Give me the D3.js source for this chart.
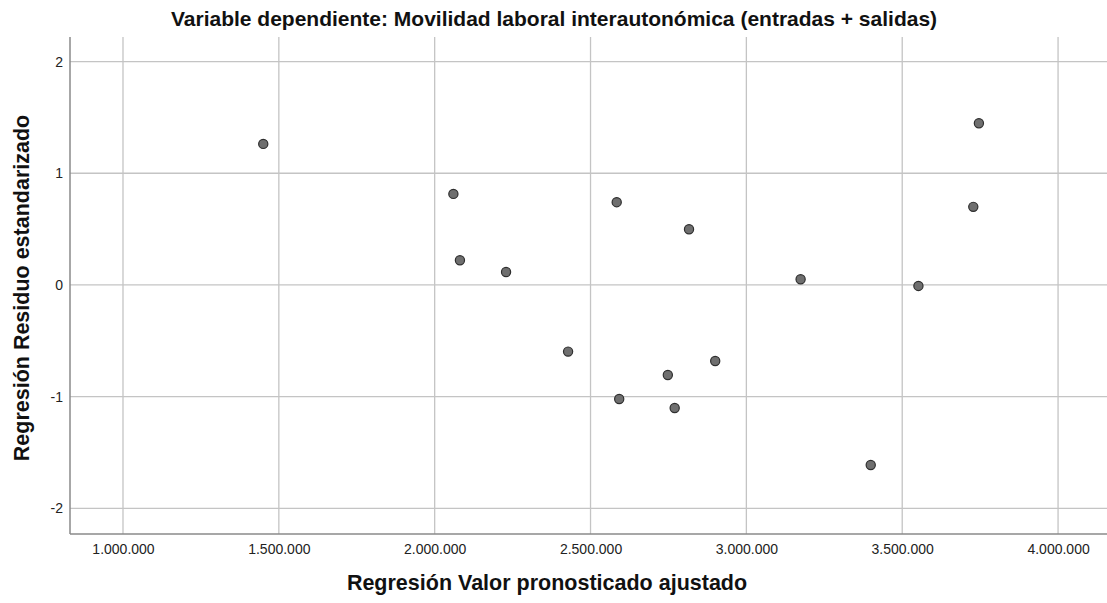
<!DOCTYPE html>
<html><head><meta charset="utf-8">
<script src="https://cdn.jsdelivr.net/npm/d3@7"></script>
<style>body{margin:0;background:#fff;}svg{display:block;font-family:"Liberation Sans",Arial,sans-serif;}</style>
</head><body>
<svg id="c" width="1107" height="603"></svg>
<script>
const predicted = [1450000,2060000,2081000,2229000,2428000,2584000,2592000,2748000,2770000,2816000,2900000,3174000,3399000,3552000,3728000,3746000];
const residual  = [1.263,0.815,0.221,0.116,-0.597,0.741,-1.021,-0.806,-1.102,0.499,-0.681,0.051,-1.612,-0.009,0.699,1.448];
const xTicks = [1000000,1500000,2000000,2500000,3000000,3500000,4000000];
const yTicks = [-2,-1,0,1,2];
const title = "Variable dependiente: Movilidad laboral interautonómica (entradas + salidas)";
const xTitle = "Regresión Valor pronosticado ajustado";
const yTitle = "Regresión Residuo estandarizado";

const svg = d3.select("#c");
const L=70, R=1107, T=37, B=534;
const x = d3.scaleLinear().domain([830000, 4157000]).range([L,R]);
const y = d3.scaleLinear().domain([-2.23, 2.22]).range([B,T]);
const fmt = d => d3.format(",")(d).replace(/,/g,".");

// gridlines
svg.append("g").selectAll("line").data(xTicks).join("line")
  .attr("x1",d=>x(d)).attr("x2",d=>x(d)).attr("y1",T).attr("y2",B)
  .attr("stroke","#c4c4c4").attr("stroke-width",1.3);
svg.append("g").selectAll("line").data(yTicks).join("line")
  .attr("x1",L).attr("x2",R).attr("y1",d=>y(d)).attr("y2",d=>y(d))
  .attr("stroke","#c4c4c4").attr("stroke-width",1.3);

// axes
const xa = svg.append("g").attr("transform",`translate(0,${B})`)
  .call(d3.axisBottom(x).tickValues(xTicks).tickFormat(fmt).tickSize(0).tickPadding(10));
const ya = svg.append("g").attr("transform",`translate(${L},0)`)
  .call(d3.axisLeft(y).tickValues(yTicks).tickFormat(d=>String(d)).tickSize(0).tickPadding(7));
[xa,ya].forEach(a=>{
  a.select(".domain").attr("stroke","#8a8a8a").attr("stroke-width",1.5);
  a.selectAll("text").attr("font-size",14).attr("fill","#222").attr("font-family","Liberation Sans, Arial, sans-serif");
});
xa.select(".domain").attr("d",`M${L},0H${R}`);
ya.select(".domain").attr("d",`M0,${T}V${B}`);

// points
svg.append("g").selectAll("circle").data(predicted).join("circle")
  .attr("cx",d=>x(d)).attr("cy",(d,i)=>y(residual[i])).attr("r",4.6)
  .attr("fill","#6f6f6f").attr("stroke","#2e2e2e").attr("stroke-width",1.2);

// titles
svg.append("text").attr("x",554).attr("y",26).attr("text-anchor","middle")
  .attr("font-size",21).attr("font-weight","bold").attr("fill","#111").text(title);
svg.append("text").attr("x",547).attr("y",590).attr("text-anchor","middle")
  .attr("font-size",21.5).attr("font-weight","bold").attr("fill","#111").text(xTitle);
svg.append("text").attr("transform","translate(29,288) rotate(-90)").attr("text-anchor","middle")
  .attr("font-size",21.5).attr("font-weight","bold").attr("fill","#111").text(yTitle);
</script>
</body></html>
